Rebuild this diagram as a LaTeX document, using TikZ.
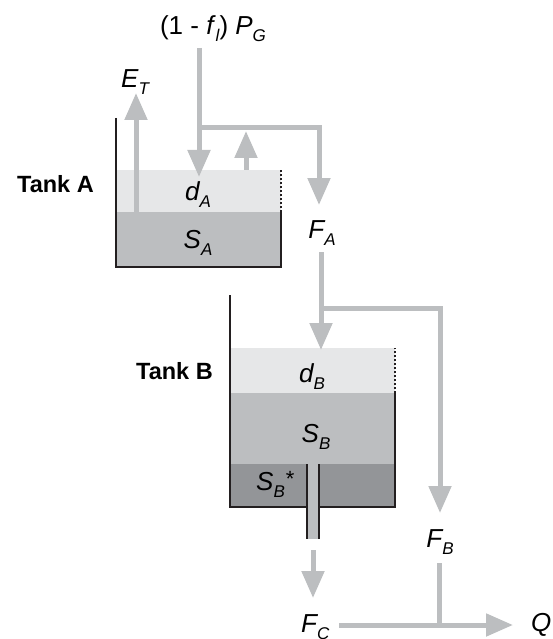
\documentclass[tikz,border=0pt]{standalone}
\usepackage{fontspec}
\setmainfont{Liberation Sans}
\usetikzlibrary{arrows.meta}
\definecolor{flow}{HTML}{BCBEC0}
\definecolor{layerd}{HTML}{E6E7E8}
\definecolor{layers}{HTML}{BCBEC0}
\definecolor{layerstar}{HTML}{939598}
\definecolor{wall}{HTML}{231F20}
\newcommand\vsb[1]{\raisebox{-7pt}{\fontsize{17}{17}\selectfont\itshape #1}}
\begin{document}
\begin{tikzpicture}[x=1pt,y=-1pt,
  flowline/.style={draw=flow,line width=5pt,line join=miter},
  flowarrow/.style={flowline,-{Triangle[length=27pt,width=22pt]}},
  wallline/.style={draw=wall,line width=1.4pt},
  dashwall/.style={draw=wall,line width=1.4pt,dash pattern=on 2pt off 2pt},
  var/.style={font=\fontsize{26}{26}\selectfont\itshape,inner sep=0pt,anchor=base},
  tanklabel/.style={font=\fontsize{23.5}{23.5}\selectfont\bfseries,inner sep=0pt,anchor=base west}]
\useasboundingbox (0,0) rectangle (553,639);

% ---------- Tank A ----------
\fill[layerd] (116,170) rectangle (281,212);
\fill[layers] (116,212) rectangle (281,267);
\draw[wallline] (116,118) -- (116,267) -- (281,267) -- (281,212);
\draw[dashwall] (281,212) -- (281,170);

% ---------- Tank B ----------
\fill[layerd] (230,348) rectangle (395,393);
\fill[layers] (230,393) rectangle (395,464);
\fill[layerstar] (230,464) rectangle (395,507);
\draw[wallline] (230,295) -- (230,507) -- (395,507) -- (395,393);
\draw[dashwall] (395,393) -- (395,348);
% outlet pipe
\fill[layers] (307,464) rectangle (319,539);
\draw[wallline] (307,464) -- (307,539);
\draw[wallline] (319,464) -- (319,539);

% ---------- coordinates ----------
\coordinate (inTop) at (199,48);
\coordinate (inTip) at (199,177);
\coordinate (splitA) at (199,128);
\coordinate (cornerA) at (319,128);
\coordinate (faTip) at (319,205);
\coordinate (upBase) at (246,170);
\coordinate (upTip) at (246,131);
\coordinate (etBase) at (136,212);
\coordinate (etTip) at (136,93);
\coordinate (faTop) at (321,252);
\coordinate (splitB) at (321,308);
\coordinate (dbTip) at (321,350);
\coordinate (cornerB) at (440,308);
\coordinate (fbTip) at (440,513);
\coordinate (fcTop) at (313,550);
\coordinate (fcTip) at (313,598);
\coordinate (fbLow) at (439,563);
\coordinate (qStart) at (339,625);
\coordinate (qJoin) at (439,625);
\coordinate (qTip) at (513,625);

% ---------- flows ----------
\draw[flowarrow] (inTop) -- (inTip);
\draw[flowarrow] (splitA) -- (cornerA) -- (faTip);
\draw[flowarrow] (upBase) -- (upTip);
\draw[flowarrow] (etBase) -- (etTip);
\draw[flowarrow] (faTop) -- (dbTip);
\draw[flowarrow] (splitB) -- (cornerB) -- (fbTip);
\draw[flowarrow] (fcTop) -- (fcTip);
\draw[flowline] (fbLow) -- (qJoin);
\draw[flowarrow] (qStart) -- (qTip);

% ---------- labels ----------
\node[font=\fontsize{26}{26}\selectfont,inner sep=0pt,anchor=base] (pg) at (213,35)
  {(1 - \textit{f}\vsb{l}) \textit{P}\vsb{G}};
\node[var,anchor=base west] (et) at (121,88) {E\vsb{T}};
\node[var] (da) at (198,200) {d\vsb{A}};
\node[var] (sa) at (198,248) {S\vsb{A}};
\node[var] (fa) at (322,238) {F\vsb{A}};
\node[tanklabel] (ta) at (17,193) {Tank A};
\node[tanklabel] (tb) at (136,379) {Tank B};
\node[var] (db) at (312,382) {d\vsb{B}};
\node[var] (sb) at (316,442) {S\vsb{B}};
\node[var,anchor=base west] (sbs) at (256,490) {S\vsb{B}\hspace{1pt}\raisebox{4pt}{\fontsize{22}{22}\selectfont\upshape *}};
\node[var] (fb) at (440,547) {F\vsb{B}};
\node[var,anchor=base west] (fc) at (301,632) {F\vsb{C}};
\node[var,anchor=base west] (q) at (531,631) {Q};
\end{tikzpicture}
\end{document}
